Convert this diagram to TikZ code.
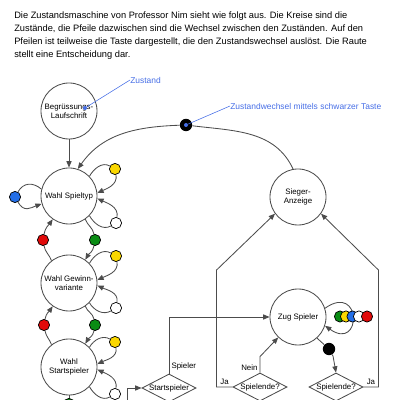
\documentclass[tikz,border=0pt]{standalone}
\usepackage{fontspec}
\setmainfont{Liberation Sans}
\usetikzlibrary{arrows.meta,shapes.geometric,positioning}

\definecolor{annoblue}{RGB}{70,110,230}
\definecolor{keyred}{RGB}{225,10,10}
\definecolor{keygreen}{RGB}{10,140,20}
\definecolor{keyyellow}{RGB}{250,215,0}
\definecolor{keyblue}{RGB}{35,110,230}

\begin{document}
\begin{tikzpicture}[
        x=0.025cm, y=0.025cm,
        state/.style={circle, draw=black!70, line width=0.6pt, minimum size=1.4cm,
            inner sep=0pt, align=center, font=\fontsize{5.6}{6.6}\selectfont},
        dec/.style={diamond, draw=black!70, line width=0.6pt, minimum width=1.35cm,
            minimum height=0.7cm, inner sep=0pt, font=\fontsize{5.6}{6.6}\selectfont},
        key/.style={circle, draw=black, line width=0.5pt, minimum size=0.28cm, inner sep=0pt},
        bkey/.style={circle, fill=black, minimum size=0.31cm, inner sep=0pt},
        lbl/.style={font=\fontsize{5.6}{6.6}\selectfont, inner sep=1.5pt},
        note/.style={font=\fontsize{6}{7}\selectfont, text=annoblue, inner sep=0pt},
        line/.style={draw=black!70, line width=0.6pt},
        arr/.style={line, -{Triangle[length=4.5pt,width=3.6pt]}}
    ]
    \useasboundingbox (0,0) rectangle (400,400);
    \clip (0,0) rectangle (400,400);

    \node[anchor=north west, align=left, inner sep=0pt, font=\fontsize{6.6}{9.2}\selectfont] (intro) at (14,388)
        {Die Zustandsmaschine von Professor Nim sieht wie folgt aus. Die Kreise sind die\\
         Zustände, die Pfeile dazwischen sind die Wechsel zwischen den Zuständen. Auf den\\
         Pfeilen ist teilweise die Taste dargestellt, die den Zustandswechsel auslöst. Die Raute\\
         stellt eine Entscheidung dar.};

    % states
    \node[state] (begr) at (69,289) {Begrüssungs-\\Laufschrift};
    \node[state] (spieltyp) at (69,204) {Wahl Spieltyp};
    \node[state] (gewinn) at (69,117) {Wahl Gewinn-\\variante};
    \node[state] (startsp) at (69,33) {Wahl\\Startspieler};
    \node[state] (sieger) at (298,203) {Sieger-\\Anzeige};
    \node[state] (zug) at (298,83) {Zug Spieler};

    % decisions
    \node[dec] (startdec) at (169,12) {\makebox[0pt]{Startspieler}};
    \node[dec] (endleft) at (260,13) {\makebox[0pt]{Spielende?}};
    \node[dec] (endright) at (336,13) {\makebox[0pt]{Spielende?}};

    % keys
    \node[key, fill=keyblue] (bl1) at (15,203) {};
    \node[key, fill=keyyellow] (y1) at (115,231) {};
    \node[key, fill=white] (w1) at (116,177) {};
    \node[key, fill=keyred] (r1) at (43,160) {};
    \node[key, fill=keygreen] (g1) at (95,160) {};
    \node[key, fill=keyyellow] (y2) at (116,144) {};
    \node[key, fill=white] (w2) at (116,92) {};
    \node[key, fill=keyred] (r2) at (44,75) {};
    \node[key, fill=keygreen] (g2) at (95,75) {};
    \node[key, fill=keyyellow] (y3) at (115,58) {};
    \node[key, fill=white] (w3) at (115,6) {};
    \node[key, fill=keygreen] (g3) at (69,-4) {};
    \node[bkey] (bk1) at (186,275) {};
    \node[bkey] (bk2) at (329,51) {};
    \coordinate (fromkey) at (127,-10);

    \draw[arr] (begr) -- (spieltyp);
    \draw[line] (sieger.100) to[out=115, in=-7] (bk1);
    \draw[arr] (bk1) to[out=182, in=55] (spieltyp.72);

    \draw[line] (spieltyp.166) to[out=140, in=60, looseness=1.2] (bl1);
    \draw[arr] (bl1) to[out=-60, in=200, looseness=1.3] (spieltyp.196);
    \draw[line] (spieltyp.44) to[out=60, in=150] (y1);
    \draw[arr] (y1) to[out=-80, in=25] (spieltyp.6);
    \draw[line] (spieltyp.-44) to[out=-60, in=210] (w1);
    \draw[arr] (w1) to[out=80, in=-25] (spieltyp.-5);

    \draw[line] (gewinn.128) to[out=110, in=-80] (r1);
    \draw[arr] (r1) to[out=80, in=235] (spieltyp.235);
    \draw[line] (spieltyp.-55) to[out=-70, in=100] (g1);
    \draw[arr] (g1) to[out=-100, in=60] (gewinn.55);

    \draw[line] (gewinn.44) to[out=60, in=150] (y2);
    \draw[arr] (y2) to[out=-80, in=25] (gewinn.6);
    \draw[line] (gewinn.-44) to[out=-60, in=210] (w2);
    \draw[arr] (w2) to[out=80, in=-25] (gewinn.-5);

    \draw[line] (startsp.128) to[out=110, in=-80] (r2);
    \draw[arr] (r2) to[out=80, in=235] (gewinn.235);
    \draw[line] (gewinn.-55) to[out=-70, in=100] (g2);
    \draw[arr] (g2) to[out=-100, in=60] (startsp.55);

    \draw[line] (startsp.44) to[out=60, in=150] (y3);
    \draw[arr] (y3) to[out=-80, in=25] (startsp.6);
    \draw[line] (startsp.-44) to[out=-60, in=210] (w3);
    \draw[arr] (w3) to[out=80, in=-25] (startsp.-5);
    \draw[line] (startsp) -- (g3);

    \draw[arr] (fromkey) |- (startdec.west);
    \draw[arr] (startdec.north) |- node[lbl, right, pos=0.06] {Spieler} (zug.west);
    \draw[arr] (endleft.north) -- node[lbl, left, pos=0.3] {Nein} ++(0,16) -- (zug.226);
    \draw[arr] (endleft.west) -- node[lbl, above] {Ja} ++(-16,0) -- ++(0,117) -- (sieger.216);
    \draw[arr] (endright.east) -- node[lbl, above] {Ja} ++(15,0) -- ++(0,117) -- (sieger.-36);
    \draw[line] (zug.-48) -- (bk2);
    \draw[arr] (bk2) -- ++(4,-7) -- (endright.north);
    \draw[arr] (zug.18) .. controls +(37,26) and +(37,-26) .. (zug.-18);

    \node[key, fill=keygreen] (zg) at (340,83.5) {};
    \node[key, fill=keyyellow] (zy) at (346,83.5) {};
    \node[key, fill=keyblue] (zb) at (352.5,83.5) {};
    \node[key, fill=white] (zw) at (359,83.5) {};
    \node[key, fill=keyred] (zr) at (367,83.5) {};

    % notes
    \node[circle, fill=annoblue, minimum size=0.1cm, inner sep=0pt] (bk1c) at (bk1) {};
    \node[circle, fill=annoblue, minimum size=0.1cm, inner sep=0pt] (zdot) at (85,292) {};
    \node[note, anchor=west] (notezust) at (130,320) {Zustand};
    \node[note, anchor=west] (notetrans) at (230,294) {Zustandwechsel mittels schwarzer Taste};
    \draw[annoblue, line width=0.4pt] (zdot) -- (notezust.west);
    \draw[annoblue, line width=0.4pt] (bk1c) -- (notetrans.west);
\end{tikzpicture}
\end{document}
